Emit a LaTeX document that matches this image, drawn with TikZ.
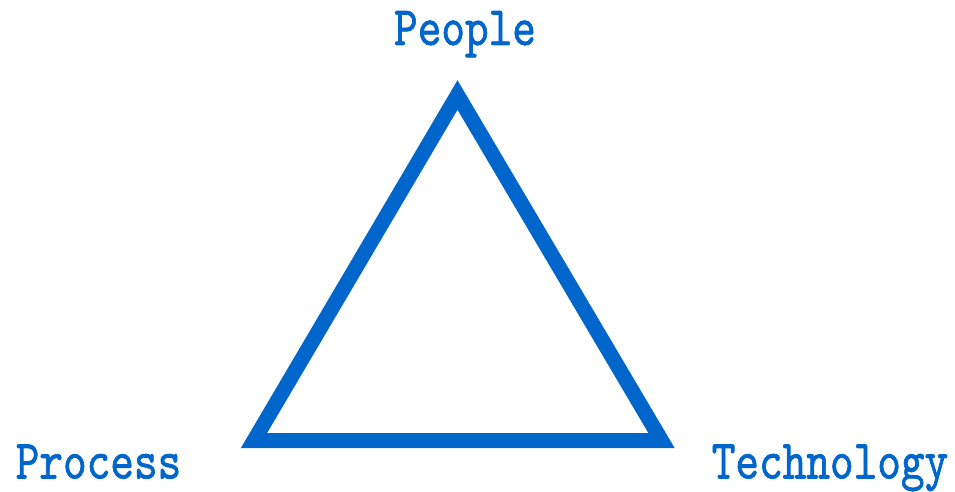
\documentclass[tikz,border=0pt]{standalone}
\usepackage{fontspec}
\usepackage{tikz}
\usetikzlibrary{calc,positioning}
\newfontfamily\labelfont[FakeStretch=0.81,FakeBold=1.2]{lmmono10-regular.otf}
\definecolor{ptblue}{HTML}{0066CC}

\begin{document}
\begin{tikzpicture}[x=1pt, y=1pt,
  side/.style={draw=ptblue, line width=15pt, line join=miter},
  lbl/.style={text=ptblue, anchor=base, inner sep=0pt,
    font=\labelfont\fontsize{55.6}{56}\selectfont}]

  \useasboundingbox (0,0) rectangle (955,491);

  \coordinate (top) at (457.5,396);
  \coordinate (left) at (254,50.5);
  \coordinate (right) at (661.5,50.5);

  \draw[side] (top) -- (left) -- (right) -- cycle;

  \node[lbl] (people) at (465,446) {People};
  \node[lbl] (process) at (98.5,12.5) {Process};
  \node[lbl] (technology) at (830,12.5) {Technology};

\end{tikzpicture}
\end{document}
